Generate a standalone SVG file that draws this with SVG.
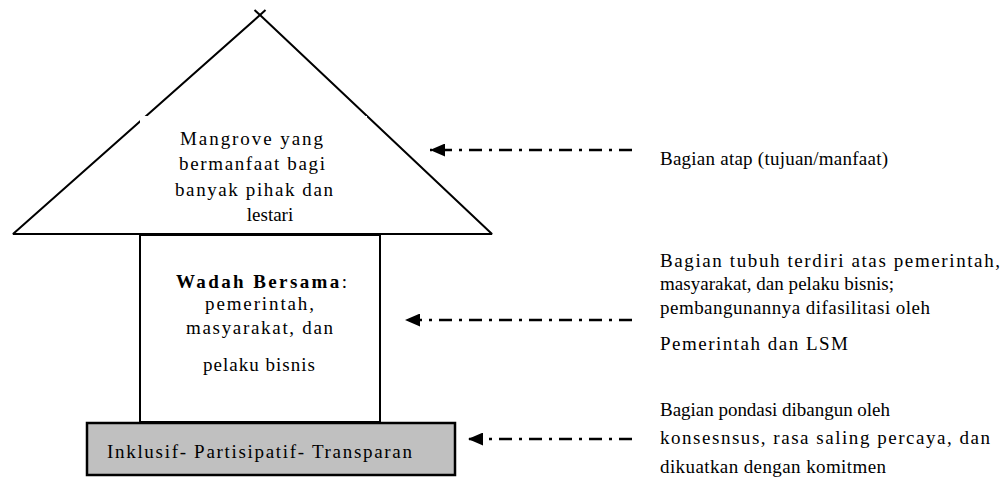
<svg xmlns="http://www.w3.org/2000/svg" width="1005" height="487" viewBox="0 0 1005 487">
<defs>
<marker id="ah" viewBox="0 0 15 13" refX="15" refY="6.5" markerWidth="15" markerHeight="13" markerUnits="userSpaceOnUse" orient="auto"><path d="M0,0 L15,6.5 L0,13 z" fill="#000"/></marker>
</defs>
<style>
text{font-family:"Liberation Serif","Times New Roman",serif;font-size:19px;fill:#000}
.b{font-weight:bold}
.c{text-anchor:middle}
.conn{stroke:#000;stroke-width:2.5;stroke-dasharray:13 7 3 7;fill:none}
.edge{stroke:#000;stroke-width:2;fill:none}
</style>
<rect width="1005" height="487" fill="#fff"/>
<g id="roof">
<polygon points="13,234 260,15 492,234" fill="#fff" stroke="#000" stroke-width="2" stroke-linejoin="bevel"/>
<line class="edge" x1="260" y1="15" x2="265.5" y2="10"/>
<line class="edge" x1="260" y1="15" x2="254.5" y2="10"/>
<rect x="140" y="116" width="227" height="117" fill="#fff"/>
<text x="180" y="145" textLength="143" lengthAdjust="spacing">Mangrove yang</text>
<text x="179" y="170" textLength="146" lengthAdjust="spacing">bermanfaat bagi</text>
<text x="175" y="196" textLength="158" lengthAdjust="spacing">banyak pihak dan</text>
<text x="270" y="221" class="c">lestari</text>
</g>
<g id="body">
<rect x="140" y="235" width="240" height="187" fill="#fff" stroke="#000" stroke-width="2"/>
<text x="176" y="288" textLength="171" lengthAdjust="spacing"><tspan class="b">Wadah Bersama</tspan>:</text>
<text x="205" y="310" textLength="109" lengthAdjust="spacing">pemerintah,</text>
<text x="186" y="334" textLength="147" lengthAdjust="spacing">masyarakat, dan</text>
<text x="203" y="371" textLength="112" lengthAdjust="spacing">pelaku bisnis</text>
</g>
<g id="foundation">
<rect x="87" y="423" width="368" height="52" fill="#c0c0c0" stroke="#000" stroke-width="2.5"/>
<text x="107" y="458" textLength="305" lengthAdjust="spacing">Inklusif- Partisipatif- Transparan</text>
</g>
<g id="connectors">
<line class="conn" x1="632" y1="150" x2="430" y2="150" marker-end="url(#ah)"/>
<line class="conn" x1="632" y1="320" x2="405" y2="320" marker-end="url(#ah)"/>
<line class="conn" x1="632" y1="439" x2="468" y2="439" marker-end="url(#ah)"/>
</g>
<g id="label-roof">
<text x="660" y="165" textLength="228" lengthAdjust="spacing">Bagian atap (tujuan/manfaat)</text>
</g>
<g id="label-body">
<text x="660" y="267" textLength="340" lengthAdjust="spacing">Bagian tubuh terdiri atas pemerintah,</text>
<text x="660" y="290" textLength="234" lengthAdjust="spacing">masyarakat, dan pelaku bisnis;</text>
<text x="660" y="314" textLength="270" lengthAdjust="spacing">pembangunannya difasilitasi oleh</text>
<text x="660" y="350" textLength="188" lengthAdjust="spacing">Pemerintah dan LSM</text>
</g>
<g id="label-foundation">
<text x="660" y="416" textLength="230" lengthAdjust="spacing">Bagian pondasi dibangun oleh</text>
<text x="660" y="444" textLength="330" lengthAdjust="spacing">konsesnsus, rasa saling percaya, dan</text>
<text x="660" y="473" textLength="226" lengthAdjust="spacing">dikuatkan dengan komitmen</text>
</g>
</svg>
